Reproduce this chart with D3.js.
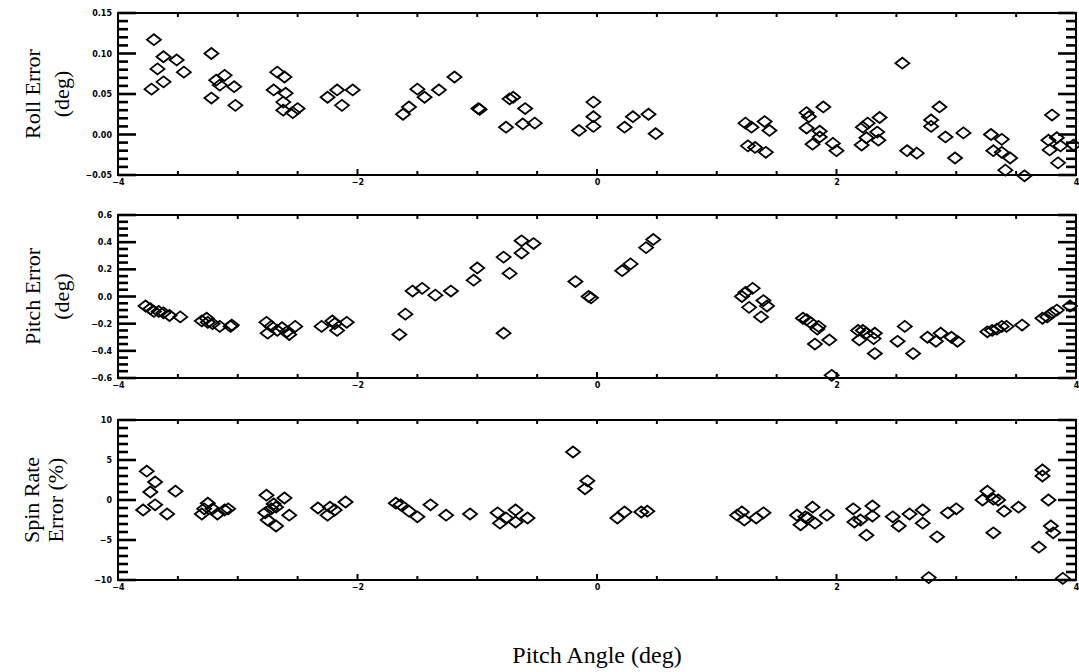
<!DOCTYPE html>
<html>
<head>
<meta charset="utf-8">
<script src="https://cdn.jsdelivr.net/npm/d3@7"></script>
<style>
  body { margin: 0; background: #fff; }
  svg { display: block; }
  .tick text { font-family: 'DejaVu Sans', sans-serif; font-weight: bold; font-size: 8px; fill: #000; }
  .title { font-family: 'Liberation Serif', serif; fill: #000; }
</style>
</head>
<body>
<svg width="1079" height="672"></svg>
<script>
// roll error vs pitch angle
var rollX = [-3.70, -3.67, -3.62, -3.62, -3.72, -3.51, -3.45,
    -3.22, -3.18, -3.15, -3.11, -3.22, -3.03, -3.02,
    -2.67, -2.61, -2.70, -2.60, -2.62, -2.62, -2.54, -2.50,
    -2.25, -2.17, -2.13, -2.04,
    -1.62, -1.57, -1.50, -1.44, -1.32, -1.19, -0.99, -0.98,
    -0.73, -0.70, -0.60, -0.76, -0.62, -0.52,
    -0.03, -0.03, -0.03, -0.15, 0.23, 0.30, 0.43, 0.49,
    2.55, 1.24, 1.29, 1.40, 1.44, 1.26, 1.32, 1.41,
    1.75, 1.77, 1.89, 1.75, 1.86, 1.86, 1.80, 1.97, 2.00,
    2.22, 2.26, 2.36, 2.34, 2.25, 2.21, 2.35,
    2.59, 2.67, 2.79, 2.79, 2.86, 2.91, 2.99, 3.06,
    3.29, 3.38, 3.31, 3.38, 3.45, 3.41, 3.57,
    3.80, 3.77, 3.84, 3.78, 3.87, 3.85, 3.98];
var rollY = [0.117, 0.081, 0.096, 0.065, 0.056, 0.092, 0.077,
    0.100, 0.067, 0.061, 0.073, 0.045, 0.059, 0.036,
    0.077, 0.071, 0.055, 0.051, 0.040, 0.030, 0.027, 0.032,
    0.046, 0.055, 0.036, 0.055,
    0.025, 0.034, 0.056, 0.046, 0.055, 0.071, 0.032, 0.031,
    0.044, 0.046, 0.032, 0.009, 0.013, 0.014,
    0.040, 0.022, 0.010, 0.005, 0.009, 0.022, 0.025, 0.001,
    0.088, 0.014, 0.009, 0.016, 0.005, -0.014, -0.016, -0.022,
    0.027, 0.022, 0.034, 0.008, 0.004, -0.003, -0.012, -0.011, -0.020,
    0.009, 0.014, 0.021, 0.003, -0.004, -0.013, -0.007,
    -0.020, -0.023, 0.018, 0.010, 0.034, -0.003, -0.029, 0.002,
    0.000, -0.006, -0.020, -0.022, -0.029, -0.044, -0.051,
    0.024, -0.007, -0.004, -0.019, -0.014, -0.035, -0.013];

// pitch error vs pitch angle
var pitchX = [-3.77, -3.73, -3.70, -3.66, -3.62, -3.57, -3.48,
    -3.30, -3.26, -3.25, -3.21, -3.15, -3.06, -3.05,
    -2.76, -2.72, -2.75, -2.67, -2.63, -2.59, -2.57, -2.52,
    -2.30, -2.21, -2.19, -2.17, -2.09,
    -1.65, -1.60, -1.54, -1.46, -1.35, -1.22, -1.03, -1.00,
    -0.78, -0.73, -0.63, -0.63, -0.53, -0.78,
    -0.18, -0.07, -0.05, 0.21, 0.28, 0.41, 0.47,
    1.21, 1.24, 1.30, 1.27, 1.39, 1.42, 1.37,
    1.72, 1.75, 1.78, 1.85, 1.84, 1.82, 1.94, 1.96,
    2.18, 2.22, 2.19, 2.25, 2.32, 2.31, 2.32,
    2.51, 2.57, 2.64, 2.76, 2.83, 2.87, 2.96, 3.01,
    3.26, 3.30, 3.34, 3.38, 3.42, 3.55,
    3.72, 3.76, 3.80, 3.84, 3.95];
var pitchY = [-0.07, -0.09, -0.11, -0.11, -0.12, -0.14, -0.15,
    -0.18, -0.16, -0.19, -0.20, -0.22, -0.22, -0.21,
    -0.19, -0.22, -0.27, -0.25, -0.23, -0.26, -0.28, -0.22,
    -0.22, -0.18, -0.20, -0.25, -0.19,
    -0.28, -0.13, 0.04, 0.06, 0.01, 0.04, 0.12, 0.21,
    0.29, 0.17, 0.32, 0.41, 0.39, -0.27,
    0.11, 0.00, -0.01, 0.19, 0.24, 0.36, 0.42,
    0.00, 0.03, 0.06, -0.08, -0.03, -0.07, -0.15,
    -0.16, -0.17, -0.19, -0.22, -0.24, -0.35, -0.32, -0.58,
    -0.25, -0.25, -0.32, -0.27, -0.27, -0.31, -0.42,
    -0.33, -0.22, -0.42, -0.30, -0.33, -0.27, -0.30, -0.33,
    -0.26, -0.25, -0.24, -0.22, -0.22, -0.21,
    -0.16, -0.15, -0.12, -0.10, -0.07];

// spin rate error vs pitch angle
var spinX = [-3.76, -3.69, -3.73, -3.52, -3.69, -3.79, -3.59,
    -3.25, -3.28, -3.30, -3.21, -3.17, -3.11, -3.08,
    -2.76, -2.77, -2.75, -2.68, -2.70, -2.68, -2.61, -2.57, -2.72,
    -2.33, -2.25, -2.23, -2.19, -2.10,
    -1.68, -1.64, -1.57, -1.50, -1.39, -1.26, -1.06,
    -0.83, -0.76, -0.81, -0.68, -0.68, -0.58,
    -0.20, -0.08, -0.10, 0.17, 0.23, 0.37, 0.42,
    1.17, 1.21, 1.23, 1.33, 1.39,
    1.67, 1.70, 1.74, 1.76, 1.80, 1.82, 1.92,
    2.14, 2.15, 2.20, 2.30, 2.30, 2.25,
    2.47, 2.52, 2.61, 2.72, 2.72, 2.84, 2.77, 2.93, 3.00,
    3.26, 3.22, 3.31, 3.35, 3.40, 3.31, 3.52,
    3.72, 3.72, 3.77, 3.79, 3.81, 3.69, 3.89];
var spinY = [3.6, 2.25, 1.0, 1.1, -0.6, -1.25, -1.75,
    -0.4, -1.1, -1.75, -1.1, -1.75, -1.25, -1.1,
    0.6, -1.6, -2.5, -3.25, -0.5, -0.9, 0.25, -1.9, -1.1,
    -1.0, -1.9, -0.9, -1.25, -0.25,
    -0.4, -0.6, -1.4, -2.1, -0.6, -1.9, -1.75,
    -1.6, -2.25, -2.9, -1.25, -2.75, -2.25,
    6.0, 2.4, 1.4, -2.25, -1.5, -1.5, -1.4,
    -1.9, -1.5, -2.5, -2.25, -1.6,
    -1.9, -3.1, -2.1, -2.25, -0.9, -2.9, -1.9,
    -1.1, -2.75, -2.5, -0.75, -2.0, -4.4,
    -2.1, -3.25, -1.75, -1.25, -2.9, -4.6, -9.7, -1.6, -1.1,
    1.1, 0.0, 0.1, 0.0, -1.4, -4.1, -0.9,
    3.75, 3.0, 0.0, -3.25, -4.1, -5.9, -9.8];

var xTicks = [-4, -2, 0, 2, 4];

var panels = [
    { xs: rollX, ys: rollY, top: 13, bottom: 175, domain: [-0.05, 0.15],
      major: [-0.05, 0, 0.05, 0.10, 0.15], minorStep: 0.01, fmt: d3.format('.2f'),
      title: ['Roll Error', '(deg)'], tx: [40, 69] },
    { xs: pitchX, ys: pitchY, top: 215, bottom: 378, domain: [-0.6, 0.6],
      major: [-0.6, -0.4, -0.2, 0, 0.2, 0.4, 0.6], minorStep: 0.05, fmt: d3.format('.1f'),
      title: ['Pitch Error', '(deg)'], tx: [40, 69] },
    { xs: spinX, ys: spinY, top: 420, bottom: 580, domain: [-10, 10],
      major: [-10, -5, 0, 5, 10], minorStep: 1, fmt: d3.format('d'),
      title: ['Spin Rate', 'Error (%)'], tx: [39, 63] }
];

var svg = d3.select('svg');
var left = 118, right = 1076;

var x = d3.scaleLinear().domain([-4, 4]).range([left, right]);

function stepValues(domain, step) {
    var out = [];
    var n = Math.round((domain[1] - domain[0]) / step);
    for (var i = 0; i <= n; i++) out.push(domain[0] + i * step);
    return out;
}

var halfTicks = stepValues([-4, 4], 0.5);

panels.forEach(function (p) {
    var y = d3.scaleLinear().domain(p.domain).range([p.bottom, p.top]);
    var g = svg.append('g');
    var minors = stepValues(p.domain, p.minorStep);
    var isMajor = function (v) {
        return p.major.some(function (m) { return Math.abs(m - v) < 1e-6; });
    };

    // frame
    g.append('rect')
        .attr('x', left).attr('y', p.top)
        .attr('width', right - left).attr('height', p.bottom - p.top)
        .attr('fill', 'none').attr('stroke', '#000').attr('stroke-width', 2);

    // left/right ticks as small filled triangles-free bars (polygons with area)
    var yTicks = [];
    minors.forEach(function (v) {
        var len = isMajor(v) ? 18 : 10;
        yTicks.push({ x0: left, x1: left + len, y: y(v) });
        yTicks.push({ x0: right - len, x1: right, y: y(v) });
    });
    g.selectAll('polygon.yt')
        .data(yTicks)
        .enter()
        .append('polygon')
        .attr('class', 'yt')
        .attr('points', function (d) {
            return [[d.x0, d.y - 1.3], [d.x1, d.y - 1.3], [d.x1, d.y + 1.3], [d.x0, d.y + 1.3]].join(' ');
        })
        .attr('fill', '#000');

    var xt = [];
    halfTicks.forEach(function (v) {
        var h = v % 2 === 0 ? 6 : 4;
        xt.push({ x: x(v), y0: p.bottom - h, y1: p.bottom });
        xt.push({ x: x(v), y0: p.top, y1: p.top + 4 });
    });
    g.selectAll('polygon.xt')
        .data(xt)
        .enter()
        .append('polygon')
        .attr('class', 'xt')
        .attr('points', function (d) {
            return [[d.x - 1, d.y0], [d.x + 1, d.y0], [d.x + 1, d.y1], [d.x - 1, d.y1]].join(' ');
        })
        .attr('fill', '#000');

    // labels
    g.append('g').attr('transform', 'translate(' + left + ',0)')
        .call(d3.axisLeft(y).tickValues(p.major).tickSize(0).tickPadding(6).tickFormat(p.fmt))
        .call(function (s) { s.select('.domain').remove(); });
    g.append('g').attr('transform', 'translate(0,' + p.bottom + ')')
        .call(d3.axisBottom(x).tickValues(xTicks).tickSize(0).tickPadding(4)
            .tickFormat(function (d) { return d < 0 ? '\u2212' + (-d) : d; }))
        .call(function (s) { s.select('.domain').remove(); });

    // diamonds
    var pts = p.xs.map(function (d, i) { return [d, p.ys[i]]; });
    g.selectAll('path.pt')
        .data(pts)
        .enter()
        .append('path')
        .attr('class', 'pt')
        .attr('d', 'M-7,0L0,-5.5L7,0L0,5.5Z')
        .attr('transform', function (d) { return 'translate(' + x(d[0]) + ',' + y(d[1]) + ')'; })
        .attr('fill', 'none')
        .attr('stroke', '#000')
        .attr('stroke-width', 1.8);

    // y title
    var cy = (p.top + p.bottom) / 2;
    p.title.forEach(function (t, i) {
        svg.append('text')
            .attr('class', 'title')
            .attr('transform', 'translate(' + p.tx[i] + ',' + cy + ') rotate(-90)')
            .attr('text-anchor', 'middle')
            .style('font-size', '22px')
            .text(t);
    });
});

svg.append('text')
    .attr('class', 'title')
    .attr('x', 597).attr('y', 663)
    .attr('text-anchor', 'middle')
    .style('font-size', '24px')
    .text('Pitch Angle (deg)');
</script>
</body>
</html>
